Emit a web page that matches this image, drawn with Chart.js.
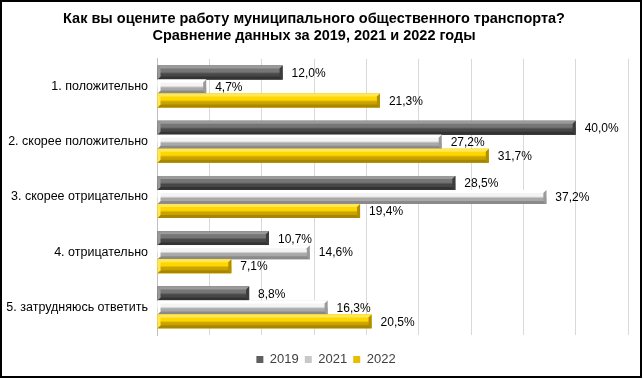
<!DOCTYPE html>
<html>
<head>
<meta charset="utf-8">
<script src="https://cdn.jsdelivr.net/npm/chart.js@4"></script>
<style>
  html, body { margin: 0; padding: 0; background: #fff; }
  #wrap { width: 643px; height: 379px; }
</style>
</head>
<body>
<div id="wrap"><canvas id="myChart" width="643" height="379"></canvas></div>
<script>
const categories = ['1. положительно', '2. скорее положительно', '3. скорее отрицательно', '4. отрицательно', '5. затрудняюсь ответить'];
const years = ['2019', '2021', '2022'];
const values2019 = [12.0, 40.0, 28.5, 10.7, 8.8];
const values2021 = [4.7, 27.2, 37.2, 14.6, 16.3];
const values2022 = [21.3, 31.7, 19.4, 7.1, 20.5];

// bevel colours per series: top edge, face top, face bottom, bottom edge, end cap
const shades = [
  { hi: '#9a9a9a', top: '#767676', bot: '#474747', lo: '#333333', cap: '#3c3c3c' },
  { hi: '#ffffff', top: '#f4f4f4', bot: '#a9a9a9', lo: '#8a8a8a', cap: '#9a9a9a' },
  { hi: '#ffe75a', top: '#ffd700', bot: '#c9a200', lo: '#a88700', cap: '#b08e00' }
];

const FONT = "'Liberation Sans', Arial, sans-serif";

const frame = {
  id: 'frame',
  afterLayout(chart) {
    // legend is centred on the whole frame, not on the padded area
    chart.legend.left += 12;
    chart.legend.right += 12;
  },
  beforeDraw(chart) {
    const c = chart.ctx;
    c.save();
    c.fillStyle = '#fff';
    c.fillRect(0, 0, chart.width, chart.height);
    c.restore();
  },
  afterDraw(chart) {
    const c = chart.ctx;
    c.save();
    c.strokeStyle = '#000';
    c.lineWidth = 2;
    c.strokeRect(1, 1, chart.width - 3, chart.height - 3);
    c.restore();
  }
};

const bevel = {
  id: 'bevel',
  afterDatasetsDraw(chart) {
    const c = chart.ctx;
    chart.data.datasets.forEach((ds, di) => {
      const meta = chart.getDatasetMeta(di);
      const s = shades[di];
      meta.data.forEach((el, i) => {
        const left = el.base, right = el.x;
        const top = el.y - el.height / 2, bottom = el.y + el.height / 2;
        const b = 3;
        c.save();
        const g = c.createLinearGradient(0, top, 0, bottom);
        g.addColorStop(0, s.top);
        g.addColorStop(0.45, s.top);
        g.addColorStop(0.6, s.bot);
        g.addColorStop(1, s.bot);
        c.fillStyle = g;
        c.fillRect(left, top, right - left, bottom - top);
        // top edge
        c.fillStyle = s.hi;
        c.beginPath();
        c.moveTo(left, top); c.lineTo(right, top); c.lineTo(right - b, top + b); c.lineTo(left + b, top + b);
        c.closePath(); c.fill();
        // bottom edge
        c.fillStyle = s.lo;
        c.beginPath();
        c.moveTo(left, bottom); c.lineTo(right, bottom); c.lineTo(right - b, bottom - b); c.lineTo(left + b, bottom - b);
        c.closePath(); c.fill();
        // right cap
        c.fillStyle = s.cap;
        c.beginPath();
        c.moveTo(right, top); c.lineTo(right, bottom); c.lineTo(right - b, bottom - b); c.lineTo(right - b, top + b);
        c.closePath(); c.fill();
        // left chevron
        c.fillStyle = s.hi;
        c.beginPath();
        c.moveTo(left, top); c.lineTo(left + b, top + b); c.lineTo(left + b, bottom - b); c.lineTo(left, bottom);
        c.closePath(); c.fill();
        c.restore();

        // value label
        c.save();
        c.font = '12px ' + FONT;
        c.fillStyle = '#000';
        c.textAlign = 'left';
        c.textBaseline = 'middle';
        const v = ds.data[i];
        c.fillText(v.toFixed(1).replace('.', ',') + '%', right + 9, el.y + 1);
        c.restore();
      });
    });
  }
};

const data = {
  labels: categories,
  datasets: [
    { label: years[0], data: values2019, backgroundColor: '#5f5f5f' },
    { label: years[1], data: values2021, backgroundColor: '#c8c8c8' },
    { label: years[2], data: values2022, backgroundColor: '#e8be00' }
  ]
};

const config = {
  type: 'bar',
  data: data,
  options: {
    indexAxis: 'y',
    responsive: false,
    animation: false,
    datasets: {
      bar: { barPercentage: 1, categoryPercentage: 0.76 }
    },
    layout: { padding: { left: 0, right: 15, top: 1, bottom: 3 } },
    scales: {
      x: {
        min: 0,
        max: 45,
        afterFit(scale) { scale.height = 12; },
        ticks: { display: false, stepSize: 5 },
        grid: { color: '#d9d9d9', drawTicks: false },
        border: { display: false }
      },
      y: {
        afterFit(scale) { scale.width = 157; },
        ticks: { color: '#000', font: { size: 12.5, family: FONT }, padding: 9 },
        grid: { display: false, drawTicks: false },
        border: { display: true, color: '#bfbfbf', width: 1 }
      }
    },
    plugins: {
      title: {
        display: true,
        text: ['Как вы оцените работу муниципального общественного транспорта?', 'Сравнение данных за 2019, 2021 и 2022 годы'],
        color: '#000',
        font: { size: 14.5, weight: 'bold', family: FONT, lineHeight: 1.17 },
        padding: { top: 10, bottom: 14 }
      },
      legend: {
        position: 'bottom',
        labels: {
          boxWidth: 7,
          boxHeight: 7,
          padding: 6,
          color: '#404040',
          font: { size: 13, family: FONT }
        }
      },
      tooltip: { enabled: false }
    }
  },
  plugins: [frame, bevel]
};

const myChart = new Chart(document.getElementById('myChart'), config);
</script>
</body>
</html>
